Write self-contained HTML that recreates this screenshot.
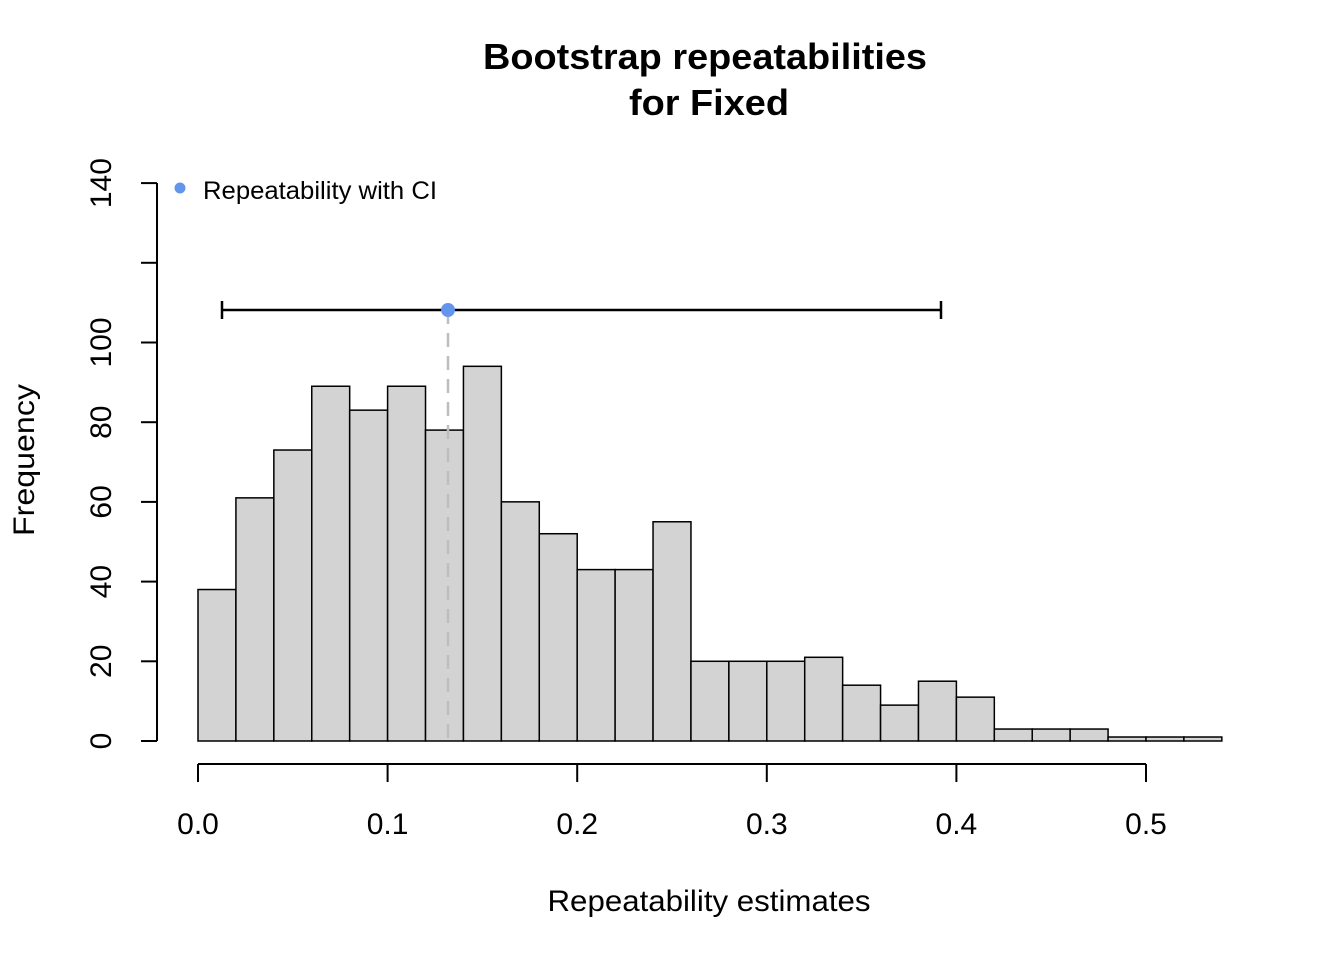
<!DOCTYPE html>
<html><head><meta charset="utf-8"><style>body{margin:0;background:#fff}svg{display:block}</style></head>
<body>
<svg width="1344" height="960" xmlns="http://www.w3.org/2000/svg" font-family="Liberation Sans, Arial, sans-serif">
<rect width="1344" height="960" fill="#fff"/>
<text x="705" y="69" font-size="36" font-weight="bold" text-anchor="middle" textLength="444" lengthAdjust="spacingAndGlyphs">Bootstrap repeatabilities</text>
<text x="709" y="115" font-size="36" font-weight="bold" text-anchor="middle" textLength="160" lengthAdjust="spacingAndGlyphs">for Fixed</text>
<g id="bars" fill="#d3d3d3" stroke="#000" stroke-width="1.5"></g>
<line x1="448" y1="310" x2="448" y2="741" stroke="#bebebe" stroke-width="2.5" stroke-dasharray="14,9"/>
<g stroke="#000" stroke-width="2.5">
<line x1="222" y1="310" x2="941" y2="310"/>
<line x1="222" y1="301" x2="222" y2="319"/>
<line x1="941" y1="301" x2="941" y2="319"/>
</g>
<circle cx="448" cy="310" r="7" fill="#6495ed"/>
<circle cx="180" cy="188" r="5.5" fill="#6495ed"/>
<text x="203" y="199" font-size="25" textLength="234" lengthAdjust="spacingAndGlyphs">Repeatability with CI</text>
<g stroke="#000" stroke-width="2" id="axes">
<line x1="157" y1="183" x2="157" y2="741"/>
<line x1="198" y1="764" x2="1146" y2="764"/>
</g>
<g id="lbl" font-size="30"></g>
<text x="709" y="911" font-size="30" text-anchor="middle" textLength="323" lengthAdjust="spacingAndGlyphs">Repeatability estimates</text>
<text transform="translate(34,460) rotate(-90)" font-size="30" text-anchor="middle" textLength="152" lengthAdjust="spacingAndGlyphs">Frequency</text>
<script>
var h=[38,61,73,89,83,89,78,94,60,52,43,43,55,20,20,20,21,14,9,15,11,3,3,3,1,1,1];
var ns="http://www.w3.org/2000/svg",b=document.getElementById('bars'),w=37.92;
h.forEach(function(v,i){var r=document.createElementNS(ns,'rect');var hh=v*3.986;
r.setAttribute('x',198+i*w);r.setAttribute('y',741-hh);r.setAttribute('width',w);r.setAttribute('height',hh);b.appendChild(r);});
var a=document.getElementById('axes'),l=document.getElementById('lbl');
function ln(x1,y1,x2,y2){var e=document.createElementNS(ns,'line');e.setAttribute('x1',x1);e.setAttribute('y1',y1);e.setAttribute('x2',x2);e.setAttribute('y2',y2);a.appendChild(e);}
function tx(s,x,y,rot){var e=document.createElementNS(ns,'text');e.textContent=s;e.setAttribute('text-anchor','middle');
if(rot){e.setAttribute('transform','translate('+x+','+y+') rotate(-90)');}else{e.setAttribute('x',x);e.setAttribute('y',y);}l.appendChild(e);}
for(var k=0;k<=7;k++){var y=741-k*79.7;ln(141,y,157,y);if([0,1,2,3,4,5,7].indexOf(k)>=0)tx(String(k*20),111,y,true);}
for(var k=0;k<=5;k++){var x=198+k*189.6;ln(x,764,x,782);tx((k/10).toFixed(1),x,834,false);}
</script>
</svg>
</body></html>
